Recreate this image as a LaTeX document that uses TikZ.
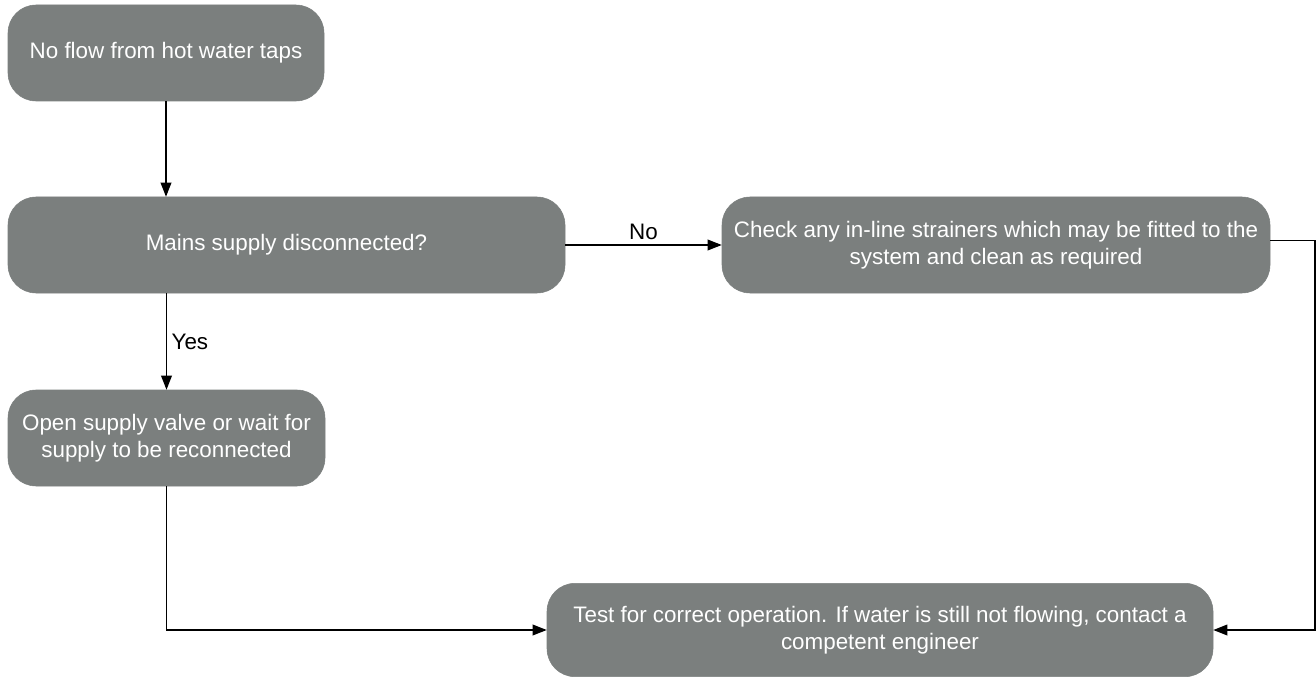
\documentclass[tikz,border=0pt]{standalone}
\usepackage{fontspec}
\setmainfont{Liberation Sans}
\usetikzlibrary{arrows.meta}
\definecolor{boxgrey}{RGB}{123,127,126}
\tikzset{
  procbox/.style={rounded corners=21pt, fill=boxgrey, draw=boxgrey, text=white, align=center, minimum height=72pt, font=\fontsize{16.8}{20}\selectfont},
  flow/.style={line width=1pt, -{Triangle[length=10.5pt,width=8pt]}},
  lbl/.style={font=\fontsize{16.8}{20}\selectfont}
}
\begin{document}
\begin{tikzpicture}[x=0.75pt,y=0.75pt,yscale=-1,xscale=1]
\useasboundingbox (0,0) rectangle (1316,677);

%Rounded Rect [id:tap]
\node (taps) at (166,53) [procbox, minimum width=237pt] {No flow from hot water taps};
%Rounded Rect [id:mains]
\node (mains) at (286.5,245) [procbox, minimum width=417.75pt] {Mains supply disconnected?};
%Rounded Rect [id:strain]
\node (strain) at (996,245) [procbox, minimum width=411pt] {Check any in-line strainers which may be fitted to the\\system and clean as required};
%Rounded Rect [id:valve]
\node (valve) at (166.5,438) [procbox, minimum width=237.75pt] {Open supply valve or wait for\\supply to be reconnected};
%Rounded Rect [id:test]
\node (test) at (880,630) [procbox, minimum width=499.5pt, minimum height=70pt] {Test for correct operation. If water is still not flowing, contact a\\competent engineer};

\coordinate (rt) at (1315,630);

%Straight Lines [id:taps-mains]
\draw [flow] (taps) -- (taps |- mains.north);
%Straight Lines [id:mains-valve]
\draw [flow] (valve |- mains.south) -- (valve) node [lbl, pos=0.5, right] {Yes};
%Straight Lines [id:mains-strain]
\draw [flow] (mains) -- (strain) node [lbl, pos=0.5, above] {No};
%Straight Lines [id:valve-test]
\draw [flow] (valve) |- (test);
%Straight Lines [id:strain-test]
\draw [flow] ([yshift=-3.5pt]strain.east) -| (rt) -- (rt -| test.east);

\end{tikzpicture}
\end{document}
